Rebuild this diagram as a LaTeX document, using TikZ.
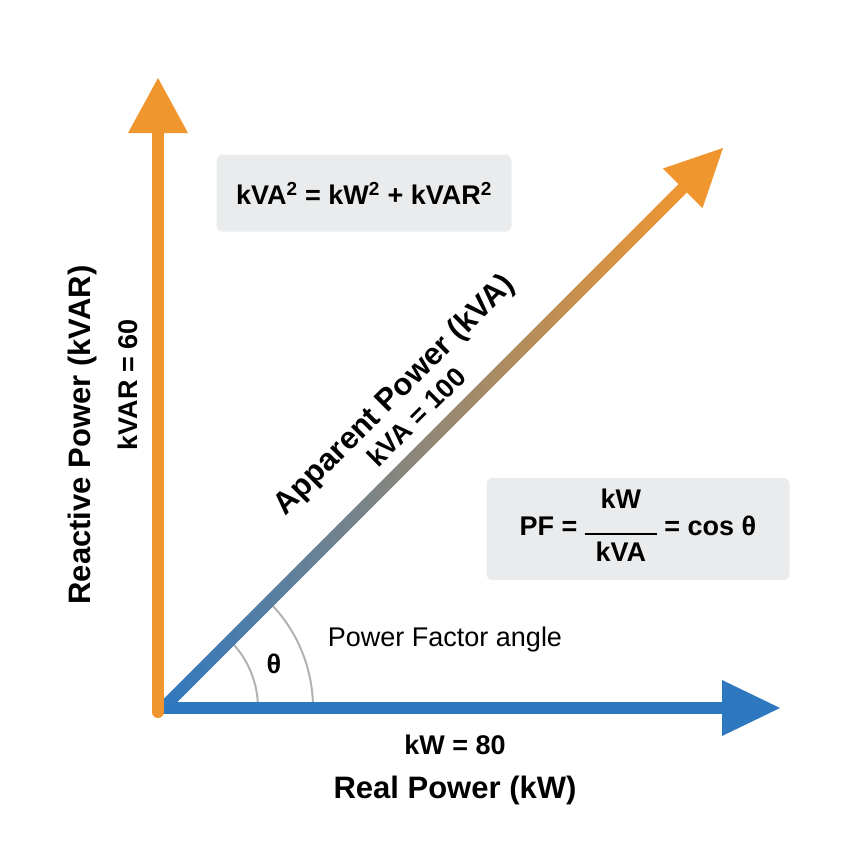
\documentclass[tikz,border=0pt]{standalone}
\usepackage{fontspec}
\setmainfont{Liberation Sans}
\begin{document}
\definecolor{org}{HTML}{F0962F}
\definecolor{blu}{HTML}{2E78C0}
\definecolor{bx}{HTML}{E9EBEC}
\begin{tikzpicture}[x=1pt,y=-1pt,
  box/.style={fill=bx,rounded corners=6pt,inner sep=0pt},
  big/.style={font=\fontsize{31}{34}\selectfont\bfseries},
  mid/.style={font=\fontsize{27}{30}\selectfont\bfseries}]
\useasboundingbox (0,0) rectangle (857,849);
\coordinate (O) at (163,708);
% boxes
\node[box,minimum width=295pt,minimum height=77pt] (eq) at (364,193) {};
\node[mid] at (eq) {kVA\textsuperscript{2} = kW\textsuperscript{2} + kVAR\textsuperscript{2}};
\node[box,minimum width=303pt,minimum height=102pt] (pf) at (638,529) {};
\node[mid] at (pf) {PF = \begin{tabular}{@{}c@{}}kW\\[-4pt]\rule{72pt}{1.5pt}\\[-3pt]kVA\end{tabular} = cos θ};
% angle arcs
\draw[gray!60,line width=2pt] (O) ++(95,0) arc[start angle=0,end angle=-45,radius=95];
\draw[gray!60,line width=2pt] (O) ++(150,0) arc[start angle=0,end angle=-45,radius=150];
\node[mid] (th) at (274,664) {θ};
\node[font=\fontsize{27}{30}\selectfont] (pfa) at (445,640) {Power Factor angle};
% diagonal
\begin{scope}[shift={(O)},rotate=45]
\shade[left color=blu,right color=org,middle color=blu!50!org] (0,-6) rectangle (735,6);
\fill[org] (735,-28) -- (792,0) -- (735,28) -- cycle;
\node[big,rotate=45] (app) at (385,-57) {Apparent Power (kVA)};
\node[mid,rotate=45] (kva) at (385,-27) {kVA = 100};
\end{scope}
% horizontal
\coordinate (H) at (780,708);
\draw[blu,line width=12pt] (O) -- (725,708);
\fill[blu] (722,680) -- (H) -- (722,736) -- cycle;
% vertical
\draw[org,line width=12pt,line cap=round] (158,712) -- (158,130);
\fill[org] (128,133) -- (158,78) -- (188,133) -- cycle;
\node[big,rotate=90] (rp) at (82,435) {Reactive Power (kVAR)};
\node[mid,rotate=90] (kvar) at (128,385) {kVAR = 60};
\node[mid] (kw) at (455,745) {kW = 80};
\node[big] (real) at (455,790) {Real Power (kW)};
\end{tikzpicture}
\end{document}
